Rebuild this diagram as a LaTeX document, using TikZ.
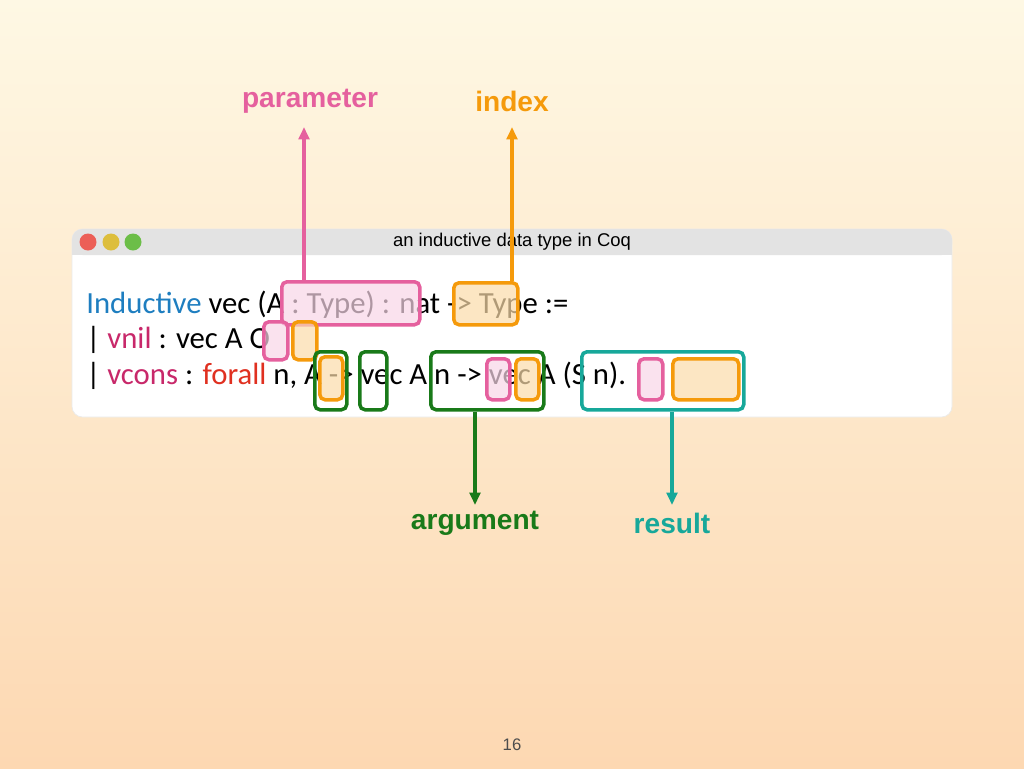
\documentclass[tikz,border=0pt]{standalone}
\usepackage{fontspec}
\setmainfont{Liberation Sans}
\newfontfamily\codefont{Carlito}
\usetikzlibrary{arrows.meta}
\definecolor{parcol}{HTML}{E5609E}
\definecolor{idxcol}{HTML}{F59A0B}
\definecolor{argcol}{HTML}{197A19}
\definecolor{rescol}{HTML}{17A89A}
\definecolor{kwblue}{HTML}{1E7EC0}
\definecolor{kwcons}{HTML}{C8286A}
\definecolor{kwred}{HTML}{E03020}
\definecolor{bgtop}{HTML}{FEF8E4}
\definecolor{bgbot}{HTML}{FDD8B2}
\definecolor{dotred}{HTML}{EC5F57}
\definecolor{dotyel}{HTML}{DDBE3C}
\definecolor{dotgrn}{HTML}{6CBE48}
\tikzset{
  hbox/.style={draw, line width=2pt, rounded corners=3pt, anchor=north west, inner sep=0pt},
  parbox/.style={hbox, parcol, fill=parcol!25, fill opacity=0.7},
  idxbox/.style={hbox, idxcol, fill=idxcol!35, fill opacity=0.7},
  argbox/.style={hbox, argcol},
  resbox/.style={hbox, rescol},
  tag/.style={font=\fontsize{16}{18}\selectfont\bfseries},
  code/.style={anchor=base west, inner sep=0pt, font=\codefont\fontsize{17.5}{20}\selectfont},
}
\newcommand{\boxat}[6]{\node[#1, minimum width={(#4-#2)*0.02cm}, minimum height={(#5-#3)*0.02cm}] (#6) at (#2,#3) {};}
\begin{document}
\begin{tikzpicture}[x=0.02cm, y=-0.02cm, >={Triangle[length=7pt,width=6pt]}]

% background
\shade[top color=bgtop, bottom color=bgbot] (0,0) rectangle (1024,768);

% window
\fill[white, rounded corners=6pt, draw=black!8] (72,229) rectangle (952,417);
\fill[black!11, rounded corners=6pt] (72,229) rectangle (952,255);
\fill[black!11] (72,245) rectangle (952,255);
\fill[dotred] (88,242) circle (8.5);
\fill[dotyel] (111,242) circle (8.5);
\fill[dotgrn] (133,242) circle (8.5);
\node[font=\fontsize{10.5}{12}\selectfont] (title) at (512,242) {an inductive data type in Coq};

% code
\node[code] (line1) at (86,313) {\textcolor{kwblue}{Inductive} vec (A : Type) : nat -> Type :=};
\node[code] (line2) at (86,348) {| \textcolor{kwcons}{vnil} : vec A O};
\node[code] (line3) at (86,384) {| \textcolor{kwcons}{vcons} : \textcolor{kwred}{forall} n, A -> vec A n -> vec A (S n).};

% highlights
\boxat{parbox}{280}{280}{418}{323}{par}
\boxat{idxbox}{452}{281}{516}{323}{idx}
\boxat{parbox}{262}{320}{286}{358}{parnil}
\boxat{idxbox}{291}{320}{315}{358}{idxnil}
\boxat{argbox}{313}{350}{345}{408}{argone}
\boxat{idxbox}{318}{355}{341}{398}{idxone}
\boxat{argbox}{358}{350}{385}{408}{argtwo}
\boxat{argbox}{429}{350}{542}{408}{argthree}
\boxat{parbox}{485}{357}{508}{398}{parthree}
\boxat{idxbox}{514}{357}{537}{398}{idxthree}
\boxat{resbox}{580}{350}{742}{408}{res}
\boxat{parbox}{637}{357}{661}{398}{parres}
\boxat{idxbox}{671}{357}{737}{398}{idxres}

% labels
\node[tag, parcol] (lpar) at (310,101) {parameter};
\node[tag, idxcol] (lidx) at (512,101) {index};
\node[tag, argcol] (larg) at (475,523) {argument};
\node[tag, rescol] (lres) at (672,523) {result};

\draw[->, parcol, line width=2pt] (par.north -| 304,0) -- (304,127);
\draw[->, idxcol, line width=2pt] (idx.north -| 512,0) -- (512,127);
\draw[->, argcol, line width=2pt] (argthree.south -| 475,0) -- (475,505);
\draw[->, rescol, line width=2pt] (res.south -| 672,0) -- (672,505);

\node[font=\fontsize{9.5}{11}\selectfont, text=black!70] (page) at (512,745) {16};
\end{tikzpicture}
\end{document}
